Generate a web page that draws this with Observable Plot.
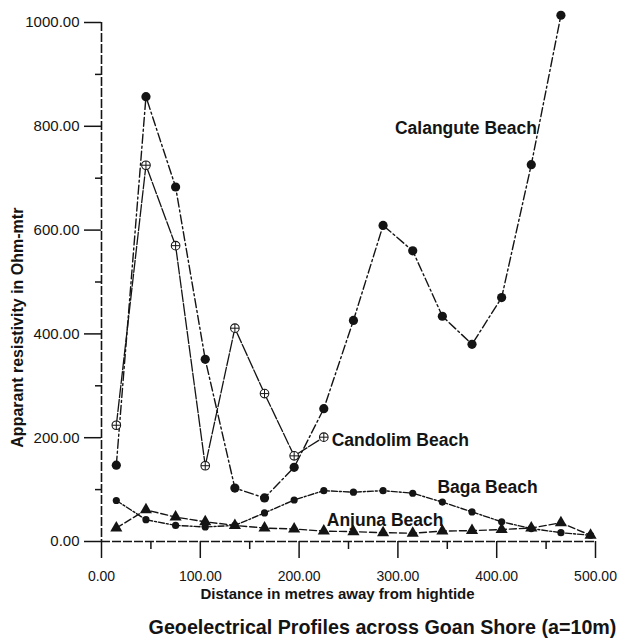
<!DOCTYPE html>
<html><head><meta charset="utf-8">
<script src="https://cdn.jsdelivr.net/npm/d3@7"></script>
<script src="https://cdn.jsdelivr.net/npm/@observablehq/plot@0.6"></script>
<style>html,body{margin:0;padding:0;background:#fff;} #chart{width:619px;height:641px;overflow:hidden}</style>
</head><body><div id="chart"></div>
<script>
// Distances (m) away from high tide
const distances = [15,45,75,105,135,165,195,225,255,285,315,345,375,405,435,465,495];
// Apparent resistivity (Ohm-m)
const calangute = [147,857,683,351,103,84,143,256,426,609,560,434,380,470,726,1014];
const candolim  = [224,725,570,146,411,285,165,201];
const baga      = [79,42,31,28,31,55,80,98,95,98,93,76,57,38,25,17,12];
const anjuna    = [26,61,47,38,31,26,24,20,19,17,16,20,21,23,26,36,12];
// Ticks
const xMajorTicks = [0,100,200,300,400,500];
const xMinorTicks = [50,150,250,350,450];
const yMajorTicks = [0,200,400,600,800,1000];
const yMinorTicks = [100,300,500,700,900];
// Series labels (annotation anchor in data units)
const seriesNames = ["Calangute Beach","Candolim Beach","Baga Beach","Anjuna Beach"];
const labelX = [297, 233, 340, 228];
const labelY = [796, 194, 104, 41];
// Axis title anchors (data units)
const yTitle = {text: "Apparant resistivity in Ohm-mtr", x: -85, y: 412};

const rows = vals => vals.map((v, i) => ({x: distances[i], y: v}));
const ink = "#141414";
const fmt = d => d.toFixed(2);

const chart = Plot.plot({
  width: 619, height: 641,
  marginLeft: 101, marginRight: 24, marginTop: 22, marginBottom: 100,
  x: {domain: [0, 500]},
  y: {domain: [0, 1000]},
  style: {fontFamily: "'Liberation Sans', Arial, sans-serif", background: "#fff", color: ink},
  marks: [
    Plot.axisY(yMajorTicks, {tickSize: 17, tickFormat: () => "", label: null, strokeWidth: 1.5}),
    Plot.axisY(yMinorTicks, {tickSize: 6, tickFormat: () => "", label: null, strokeWidth: 1.5}),
    Plot.axisX(xMajorTicks, {tickSize: 17, tickFormat: () => "", label: null, strokeWidth: 1.5}),
    Plot.axisX(xMinorTicks, {tickSize: 8, tickFormat: () => "", label: null, strokeWidth: 1.5}),
    Plot.text(yMajorTicks, {y: d => d, text: fmt, frameAnchor: "left", dx: -22, textAnchor: "end", lineAnchor: "middle", fontSize: 15, fill: ink}),
    Plot.text(xMajorTicks, {x: d => d, text: fmt, frameAnchor: "bottom", dy: 35, lineAnchor: "middle", fontSize: 14, fill: ink}),
    Plot.ruleX([0], {stroke: ink, strokeWidth: 1.6, strokeDasharray: "9,2"}),
    Plot.ruleY([0], {stroke: ink, strokeWidth: 1.6, strokeDasharray: "9,2"}),

    Plot.line(rows(calangute), {x: "x", y: "y", stroke: ink, strokeWidth: 1.4, strokeDasharray: "9,3,2,3"}),
    Plot.dot(rows(calangute), {x: "x", y: "y", r: 4.6, fill: ink}),

    Plot.line(rows(candolim), {x: "x", y: "y", stroke: ink, strokeWidth: 1.3, strokeDasharray: "12,2"}),
    Plot.dot(rows(candolim), {x: "x", y: "y", r: 4.3, fill: "#fff", stroke: ink, strokeWidth: 1.1}),
    Plot.dot(rows(candolim), {x: "x", y: "y", r: 2.8, symbol: "plus", stroke: ink, strokeWidth: 1}),

    Plot.line(rows(baga), {x: "x", y: "y", stroke: ink, strokeWidth: 1.4, strokeDasharray: "6,2,2,2"}),
    Plot.dot(rows(baga), {x: "x", y: "y", r: 3.6, fill: ink}),

    Plot.line(rows(anjuna), {x: "x", y: "y", stroke: ink, strokeWidth: 1.4, strokeDasharray: "7,3"}),
    Plot.dot(rows(anjuna), {x: "x", y: "y", r: 4.5, symbol: "triangle", fill: ink}),

    Plot.text(seriesNames, {x: (d, i) => labelX[i], y: (d, i) => labelY[i], text: d => d, textAnchor: "start", fontSize: 17.5, fontWeight: "bold", fill: ink}),

    Plot.text(["Distance in metres away from hightide"], {frameAnchor: "bottom", dx: -11, dy: 57, lineAnchor: "bottom", fontSize: 15, fontWeight: "bold", fill: ink}),
    Plot.text(["Geoelectrical Profiles across Goan Shore (a=10m)"], {frameAnchor: "bottom", dx: 34, dy: 92, lineAnchor: "bottom", fontSize: 19.7, fontWeight: "bold", fill: ink}),
    Plot.text([yTitle], {x: "x", y: "y", text: "text", rotate: -90, fontSize: 16, fontWeight: "bold", fill: ink})
  ]
});
document.getElementById("chart").appendChild(chart);
</script>
</body></html>
